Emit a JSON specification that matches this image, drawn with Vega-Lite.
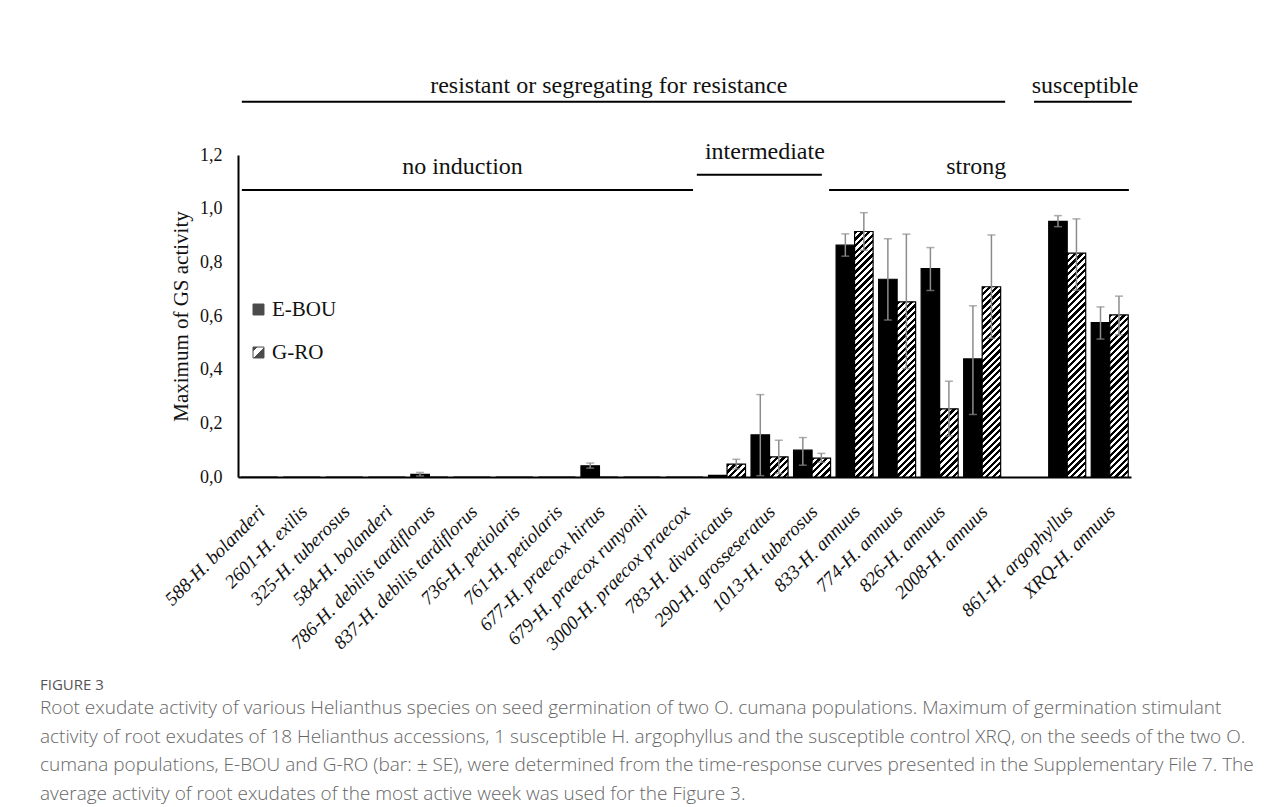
{
  "$schema": "https://vega.github.io/schema/vega-lite/v6.json",
  "autosize": {"type": "none"},
  "padding": {"left": 238, "top": 155, "right": 157, "bottom": 330},
  "width": 893,
  "height": 322,
  "background": "white",
  "params": [
    {"name": "hatchStops", "value": [
      {"offset":0,"color":"#000"},{"offset":0.0125,"color":"#000"},{"offset":0.0125,"color":"#fff"},{"offset":0.025,"color":"#fff"},
      {"offset":0.025,"color":"#000"},{"offset":0.0375,"color":"#000"},{"offset":0.0375,"color":"#fff"},{"offset":0.05,"color":"#fff"},
      {"offset":0.05,"color":"#000"},{"offset":0.0625,"color":"#000"},{"offset":0.0625,"color":"#fff"},{"offset":0.075,"color":"#fff"},
      {"offset":0.075,"color":"#000"},{"offset":0.0875,"color":"#000"},{"offset":0.0875,"color":"#fff"},{"offset":0.1,"color":"#fff"},
      {"offset":0.1,"color":"#000"},{"offset":0.1125,"color":"#000"},{"offset":0.1125,"color":"#fff"},{"offset":0.125,"color":"#fff"},
      {"offset":0.125,"color":"#000"},{"offset":0.1375,"color":"#000"},{"offset":0.1375,"color":"#fff"},{"offset":0.15,"color":"#fff"},
      {"offset":0.15,"color":"#000"},{"offset":0.1625,"color":"#000"},{"offset":0.1625,"color":"#fff"},{"offset":0.175,"color":"#fff"},
      {"offset":0.175,"color":"#000"},{"offset":0.1875,"color":"#000"},{"offset":0.1875,"color":"#fff"},{"offset":0.2,"color":"#fff"},
      {"offset":0.2,"color":"#000"},{"offset":0.2125,"color":"#000"},{"offset":0.2125,"color":"#fff"},{"offset":0.225,"color":"#fff"},
      {"offset":0.225,"color":"#000"},{"offset":0.2375,"color":"#000"},{"offset":0.2375,"color":"#fff"},{"offset":0.25,"color":"#fff"},
      {"offset":0.25,"color":"#000"},{"offset":0.2625,"color":"#000"},{"offset":0.2625,"color":"#fff"},{"offset":0.275,"color":"#fff"},
      {"offset":0.275,"color":"#000"},{"offset":0.2875,"color":"#000"},{"offset":0.2875,"color":"#fff"},{"offset":0.3,"color":"#fff"},
      {"offset":0.3,"color":"#000"},{"offset":0.3125,"color":"#000"},{"offset":0.3125,"color":"#fff"},{"offset":0.325,"color":"#fff"},
      {"offset":0.325,"color":"#000"},{"offset":0.3375,"color":"#000"},{"offset":0.3375,"color":"#fff"},{"offset":0.35,"color":"#fff"},
      {"offset":0.35,"color":"#000"},{"offset":0.3625,"color":"#000"},{"offset":0.3625,"color":"#fff"},{"offset":0.375,"color":"#fff"},
      {"offset":0.375,"color":"#000"},{"offset":0.3875,"color":"#000"},{"offset":0.3875,"color":"#fff"},{"offset":0.4,"color":"#fff"},
      {"offset":0.4,"color":"#000"},{"offset":0.4125,"color":"#000"},{"offset":0.4125,"color":"#fff"},{"offset":0.425,"color":"#fff"},
      {"offset":0.425,"color":"#000"},{"offset":0.4375,"color":"#000"},{"offset":0.4375,"color":"#fff"},{"offset":0.45,"color":"#fff"},
      {"offset":0.45,"color":"#000"},{"offset":0.4625,"color":"#000"},{"offset":0.4625,"color":"#fff"},{"offset":0.475,"color":"#fff"},
      {"offset":0.475,"color":"#000"},{"offset":0.4875,"color":"#000"},{"offset":0.4875,"color":"#fff"},{"offset":0.5,"color":"#fff"},
      {"offset":0.5,"color":"#000"},{"offset":0.5125,"color":"#000"},{"offset":0.5125,"color":"#fff"},{"offset":0.525,"color":"#fff"},
      {"offset":0.525,"color":"#000"},{"offset":0.5375,"color":"#000"},{"offset":0.5375,"color":"#fff"},{"offset":0.55,"color":"#fff"},
      {"offset":0.55,"color":"#000"},{"offset":0.5625,"color":"#000"},{"offset":0.5625,"color":"#fff"},{"offset":0.575,"color":"#fff"},
      {"offset":0.575,"color":"#000"},{"offset":0.5875,"color":"#000"},{"offset":0.5875,"color":"#fff"},{"offset":0.6,"color":"#fff"},
      {"offset":0.6,"color":"#000"},{"offset":0.6125,"color":"#000"},{"offset":0.6125,"color":"#fff"},{"offset":0.625,"color":"#fff"},
      {"offset":0.625,"color":"#000"},{"offset":0.6375,"color":"#000"},{"offset":0.6375,"color":"#fff"},{"offset":0.65,"color":"#fff"},
      {"offset":0.65,"color":"#000"},{"offset":0.6625,"color":"#000"},{"offset":0.6625,"color":"#fff"},{"offset":0.675,"color":"#fff"},
      {"offset":0.675,"color":"#000"},{"offset":0.6875,"color":"#000"},{"offset":0.6875,"color":"#fff"},{"offset":0.7,"color":"#fff"},
      {"offset":0.7,"color":"#000"},{"offset":0.7125,"color":"#000"},{"offset":0.7125,"color":"#fff"},{"offset":0.725,"color":"#fff"},
      {"offset":0.725,"color":"#000"},{"offset":0.7375,"color":"#000"},{"offset":0.7375,"color":"#fff"},{"offset":0.75,"color":"#fff"},
      {"offset":0.75,"color":"#000"},{"offset":0.7625,"color":"#000"},{"offset":0.7625,"color":"#fff"},{"offset":0.775,"color":"#fff"},
      {"offset":0.775,"color":"#000"},{"offset":0.7875,"color":"#000"},{"offset":0.7875,"color":"#fff"},{"offset":0.8,"color":"#fff"},
      {"offset":0.8,"color":"#000"},{"offset":0.8125,"color":"#000"},{"offset":0.8125,"color":"#fff"},{"offset":0.825,"color":"#fff"},
      {"offset":0.825,"color":"#000"},{"offset":0.8375,"color":"#000"},{"offset":0.8375,"color":"#fff"},{"offset":0.85,"color":"#fff"},
      {"offset":0.85,"color":"#000"},{"offset":0.8625,"color":"#000"},{"offset":0.8625,"color":"#fff"},{"offset":0.875,"color":"#fff"},
      {"offset":0.875,"color":"#000"},{"offset":0.8875,"color":"#000"},{"offset":0.8875,"color":"#fff"},{"offset":0.9,"color":"#fff"},
      {"offset":0.9,"color":"#000"},{"offset":0.9125,"color":"#000"},{"offset":0.9125,"color":"#fff"},{"offset":0.925,"color":"#fff"},
      {"offset":0.925,"color":"#000"},{"offset":0.9375,"color":"#000"},{"offset":0.9375,"color":"#fff"},{"offset":0.95,"color":"#fff"},
      {"offset":0.95,"color":"#000"},{"offset":0.9625,"color":"#000"},{"offset":0.9625,"color":"#fff"},{"offset":0.975,"color":"#fff"},
      {"offset":0.975,"color":"#000"},{"offset":0.9875,"color":"#000"},{"offset":0.9875,"color":"#fff"},{"offset":1,"color":"#fff"}
    ]}
  ],
  "title": {
    "text": "FIGURE 3",
    "subtitle": [
      "Root exudate activity of various Helianthus species on seed germination of two O. cumana populations. Maximum of germination stimulant",
      "activity of root exudates of 18 Helianthus accessions, 1 susceptible H. argophyllus and the susceptible control XRQ, on the seeds of the two O.",
      "cumana populations, E-BOU and G-RO (bar: ± SE), were determined from the time-response curves presented in the Supplementary File 7. The",
      "average activity of root exudates of the most active week was used for the Figure 3."
    ],
    "orient": "bottom",
    "anchor": "start",
    "frame": "group",
    "dx": -198,
    "offset": 25,
    "font": "Open Sans",
    "fontSize": 15,
    "fontWeight": "normal",
    "color": "#555555",
    "subtitleFont": "Open Sans",
    "subtitleFontSize": 19,
    "subtitleFontWeight": 300,
    "subtitleColor": "#666666",
    "subtitleLineHeight": 28.7,
    "subtitlePadding": 6
  },
  "layer": [
    {
      "data": {"values": [
        {"accession": "588-H. bolanderi", "population": "E-BOU", "value": 0},
        {"accession": "588-H. bolanderi", "population": "G-RO", "value": 0},
        {"accession": "2601-H. exilis", "population": "E-BOU", "value": 0},
        {"accession": "2601-H. exilis", "population": "G-RO", "value": 0},
        {"accession": "325-H. tuberosus", "population": "E-BOU", "value": 0},
        {"accession": "325-H. tuberosus", "population": "G-RO", "value": 0},
        {"accession": "584-H. bolanderi", "population": "E-BOU", "value": 0},
        {"accession": "584-H. bolanderi", "population": "G-RO", "value": 0},
        {"accession": "786-H. debilis tardiflorus", "population": "E-BOU", "value": 0.01, "lo": 0.004, "hi": 0.017},
        {"accession": "786-H. debilis tardiflorus", "population": "G-RO", "value": 0},
        {"accession": "837-H. debilis tardiflorus", "population": "E-BOU", "value": 0},
        {"accession": "837-H. debilis tardiflorus", "population": "G-RO", "value": 0},
        {"accession": "736-H. petiolaris", "population": "E-BOU", "value": 0},
        {"accession": "736-H. petiolaris", "population": "G-RO", "value": 0},
        {"accession": "761-H. petiolaris", "population": "E-BOU", "value": 0},
        {"accession": "761-H. petiolaris", "population": "G-RO", "value": 0},
        {"accession": "677-H. praecox hirtus", "population": "E-BOU", "value": 0.042, "lo": 0.033, "hi": 0.052},
        {"accession": "677-H. praecox hirtus", "population": "G-RO", "value": 0},
        {"accession": "679-H. praecox runyonii", "population": "E-BOU", "value": 0},
        {"accession": "679-H. praecox runyonii", "population": "G-RO", "value": 0},
        {"accession": "3000-H. praecox praecox", "population": "E-BOU", "value": 0},
        {"accession": "3000-H. praecox praecox", "population": "G-RO", "value": 0},
        {"accession": "783-H. divaricatus", "population": "E-BOU", "value": 0.006},
        {"accession": "783-H. divaricatus", "population": "G-RO", "value": 0.048, "lo": 0.03, "hi": 0.066},
        {"accession": "290-H. grosseseratus", "population": "E-BOU", "value": 0.157, "lo": 0.005, "hi": 0.307},
        {"accession": "290-H. grosseseratus", "population": "G-RO", "value": 0.075, "lo": 0.013, "hi": 0.137},
        {"accession": "1013-H. tuberosus", "population": "E-BOU", "value": 0.1, "lo": 0.044, "hi": 0.147},
        {"accession": "1013-H. tuberosus", "population": "G-RO", "value": 0.07, "lo": 0.055, "hi": 0.088},
        {"accession": "833-H. annuus", "population": "E-BOU", "value": 0.864, "lo": 0.823, "hi": 0.906},
        {"accession": "833-H. annuus", "population": "G-RO", "value": 0.915, "lo": 0.845, "hi": 0.985},
        {"accession": "774-H. annuus", "population": "E-BOU", "value": 0.737, "lo": 0.585, "hi": 0.888},
        {"accession": "774-H. annuus", "population": "G-RO", "value": 0.653, "lo": 0.404, "hi": 0.905},
        {"accession": "826-H. annuus", "population": "E-BOU", "value": 0.777, "lo": 0.695, "hi": 0.855},
        {"accession": "826-H. annuus", "population": "G-RO", "value": 0.254, "lo": 0.153, "hi": 0.357},
        {"accession": "2008-H. annuus", "population": "E-BOU", "value": 0.44, "lo": 0.233, "hi": 0.638},
        {"accession": "2008-H. annuus", "population": "G-RO", "value": 0.709, "lo": 0.517, "hi": 0.902},
        {"accession": "861-H. argophyllus", "population": "E-BOU", "value": 0.953, "lo": 0.933, "hi": 0.974},
        {"accession": "861-H. argophyllus", "population": "G-RO", "value": 0.834, "lo": 0.696, "hi": 0.962},
        {"accession": "XRQ-H. annuus", "population": "E-BOU", "value": 0.575, "lo": 0.514, "hi": 0.634},
        {"accession": "XRQ-H. annuus", "population": "G-RO", "value": 0.604, "lo": 0.53, "hi": 0.674}
      ]},
      "encoding": {
        "x": {
          "field": "accession", "type": "nominal", "title": null,
          "scale": {
            "domain": ["588-H. bolanderi", "2601-H. exilis", "325-H. tuberosus", "584-H. bolanderi", "786-H. debilis tardiflorus", "837-H. debilis tardiflorus", "736-H. petiolaris", "761-H. petiolaris", "677-H. praecox hirtus", "679-H. praecox runyonii", "3000-H. praecox praecox", "783-H. divaricatus", "290-H. grosseseratus", "1013-H. tuberosus", "833-H. annuus", "774-H. annuus", "826-H. annuus", "2008-H. annuus", " ", "861-H. argophyllus", "XRQ-H. annuus"],
            "paddingInner": 0.13, "paddingOuter": 0.065
          }
        },
        "xOffset": {"field": "population", "type": "nominal", "scale": {"domain": ["E-BOU", "G-RO"], "paddingInner": 0, "paddingOuter": 0}}
      },
      "layer": [
        {
          "mark": {
            "type": "bar", "stroke": "#000", "strokeWidth": 1.2,
            "fill": {"expr": "datum.population === 'E-BOU' ? '#000' : {gradient: 'linear', x1: 0, y1: 0, x2: 265.87 * 18.5 / (342.25 + pow(scale('y', 0) - scale('y', datum.value), 2)), y2: 265.87 * (scale('y', 0) - scale('y', datum.value)) / (342.25 + pow(scale('y', 0) - scale('y', datum.value), 2)), stops: hatchStops}"}
          },
          "encoding": {
            "y": {
              "field": "value", "type": "quantitative", "stack": null,
              "title": "Maximum of GS activity",
              "scale": {"domain": [0, 1.2], "nice": false},
              "axis": {"values": [0, 0.2, 0.4, 0.6, 0.8, 1.0, 1.2], "format": ".1f", "labelExpr": "replace(datum.label, '.', ',')"}
            }
          }
        },
        {
          "transform": [{"filter": "isValid(datum.lo)"}],
          "mark": {"type": "rule", "color": "#8c8c8c", "strokeWidth": 1.5},
          "encoding": {
            "y": {"field": "lo", "type": "quantitative", "title": "Maximum of GS activity", "scale": {"domain": [0, 1.2], "nice": false}},
            "y2": {"field": "hi"}
          }
        },
        {
          "transform": [{"filter": "isValid(datum.lo)"}],
          "mark": {"type": "tick", "color": "#8c8c8c", "thickness": 1.5, "size": 8, "orient": "horizontal"},
          "encoding": {
            "y": {"field": "lo", "type": "quantitative", "title": "Maximum of GS activity", "scale": {"domain": [0, 1.2], "nice": false}}
          }
        },
        {
          "transform": [{"filter": "isValid(datum.hi)"}],
          "mark": {"type": "tick", "color": "#8c8c8c", "thickness": 1.5, "size": 8, "orient": "horizontal"},
          "encoding": {
            "y": {"field": "hi", "type": "quantitative", "title": "Maximum of GS activity", "scale": {"domain": [0, 1.2], "nice": false}}
          }
        },
        {
          "mark": {"type": "point", "shape": "square", "filled": true, "size": 0},
          "encoding": {
            "y": {"field": "value", "type": "quantitative", "title": "Maximum of GS activity", "scale": {"domain": [0, 1.2], "nice": false}},
            "color": {
              "field": "population", "type": "nominal",
              "scale": {"domain": ["E-BOU", "G-RO"], "range": ["#000", {"expr": "{gradient: 'linear', x1: 0, y1: 0, x2: 1, y2: 1, stops: [{offset: 0, color: '#000'}, {offset: 0.22, color: '#000'}, {offset: 0.22, color: '#fff'}, {offset: 0.5, color: '#fff'}, {offset: 0.5, color: '#000'}, {offset: 1, color: '#000'}]}"}]},
              "legend": {
                "orient": "none", "legendX": 10, "legendY": 144, "title": null,
                "symbolType": "square", "symbolSize": 120, "symbolStrokeColor": "#000", "symbolStrokeWidth": 1,
                "labelFont": "Liberation Serif", "labelFontSize": 21, "labelColor": "#111", "labelOffset": 3, "rowPadding": 21
              }
            }
          }
        }
      ]
    },
    {
      "data": {"values": [
        {"label": "resistant or segregating for resistance", "start": 0.09, "end": 18.04, "lineLevel": 1.398, "textX": 8.72, "textLevel": 1.431},
        {"label": "susceptible", "start": 18.72, "end": 21.02, "lineLevel": 1.398, "textX": 19.92, "textLevel": 1.431},
        {"label": "no induction", "start": 0.09, "end": 10.7, "lineLevel": 1.07, "textX": 5.28, "textLevel": 1.129},
        {"label": "intermediate", "start": 10.79, "end": 13.73, "lineLevel": 1.126, "textX": 12.39, "textLevel": 1.185},
        {"label": "strong", "start": 13.9, "end": 20.95, "lineLevel": 1.07, "textX": 17.36, "textLevel": 1.129}
      ]},
      "layer": [
        {
          "mark": {"type": "rule", "color": "#000", "strokeWidth": 2},
          "encoding": {
            "x": {"field": "start", "type": "quantitative", "scale": {"domain": [0, 21], "nice": false, "zero": false}, "axis": null},
            "x2": {"field": "end"},
            "y": {"field": "lineLevel", "type": "quantitative", "title": "Maximum of GS activity", "scale": {"domain": [0, 1.2], "nice": false}}
          }
        },
        {
          "mark": {"type": "text", "font": "Liberation Serif", "fontSize": 24, "color": "#111", "baseline": "alphabetic", "align": "center"},
          "encoding": {
            "x": {"field": "textX", "type": "quantitative", "scale": {"domain": [0, 21], "nice": false, "zero": false}, "axis": null},
            "y": {"field": "textLevel", "type": "quantitative", "title": "Maximum of GS activity", "scale": {"domain": [0, 1.2], "nice": false}},
            "text": {"field": "label"}
          }
        }
      ]
    }
  ],
  "resolve": {"scale": {"x": "independent"}, "axis": {"x": "independent"}},
  "config": {
    "view": {"stroke": null},
    "axis": {
      "grid": false, "ticks": false, "domainColor": "#000", "domainWidth": 2,
      "labelFont": "Liberation Serif", "labelColor": "#111",
      "titleFont": "Liberation Serif", "titleFontWeight": "normal", "titleColor": "#111"
    },
    "axisX": {"labelAngle": -45, "labelFontSize": 19, "labelFontStyle": "italic", "labelPadding": 25, "labelOffset": -4, "labelLimit": 300, "labelOverlap": false},
    "axisY": {"labelFontSize": 18, "labelPadding": 16, "titleFontSize": 21, "titlePadding": 8}
  }
}
